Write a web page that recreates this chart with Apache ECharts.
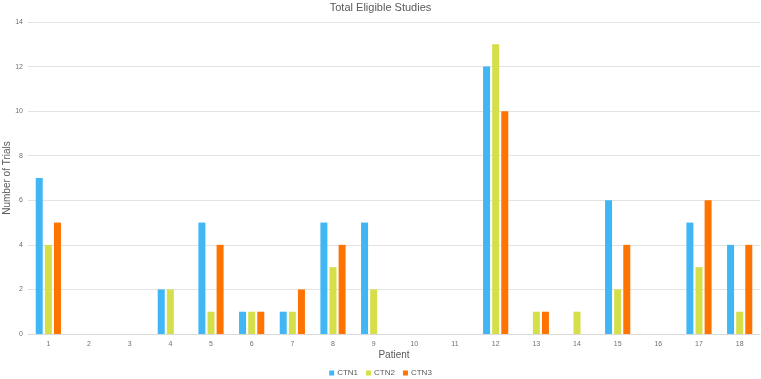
<!DOCTYPE html>
<html>
<head>
<meta charset="utf-8">
<script src="https://cdn.jsdelivr.net/npm/echarts@6/dist/echarts.min.js"></script>
<style>
  html, body { margin: 0; padding: 0; background: #fff; }
  #chart { width: 761px; height: 379px; }
</style>
</head>
<body>
<div id="chart"></div>
<script>
// patients 1..18
const patients = ['1','2','3','4','5','6','7','8','9','10','11','12','13','14','15','16','17','18'];
const ctn1 = [7, 0, 0, 2, 5, 1, 1, 5, 5, 0, 0, 12, 0, 0, 6, 0, 5, 4];
const ctn2 = [4, 0, 0, 2, 1, 1, 1, 3, 2, 0, 0, 13, 1, 1, 2, 0, 3, 1];
const ctn3 = [5, 0, 0, 0, 4, 1, 2, 4, 0, 0, 0, 10, 1, 0, 4, 0, 6, 4];

const chart = echarts.init(document.getElementById('chart'));

const bar = function (name, data, color) {
    return {
        name: name,
        type: 'bar',
        data: data,
        barGap: '30%',
        barCategoryGap: '38%',
        itemStyle: { color: color }
    };
};

chart.setOption({
    animation: false,
    textStyle: { fontFamily: 'Liberation Sans, Arial, sans-serif' },
    title: {
        text: 'Total Eligible Studies',
        left: 'center',
        top: -3,
        textStyle: { fontSize: 11, fontWeight: 'normal', color: '#595959' }
    },
    legend: {
        data: ['CTN1', 'CTN2', 'CTN3'],
        bottom: -3,
        left: 'center',
        itemWidth: 5,
        itemHeight: 5,
        itemGap: 8,
        icon: 'rect',
        textStyle: { fontSize: 8, color: '#595959', padding: [0, 0, 0, -2] }
    },
    grid: { left: 28, right: 1, top: 22, bottom: 45, outerBoundsMode: 'none', containLabel: false },
    xAxis: {
        type: 'category',
        data: patients,
        name: 'Patient',
        nameLocation: 'middle',
        nameGap: 16,
        nameMoveOverlap: false,
        nameTextStyle: { fontSize: 10, color: '#595959' },
        axisLine: { lineStyle: { color: '#d9d9d9' } },
        axisTick: { show: false },
        axisLabel: { fontSize: 7, color: '#707070', margin: 7 }
    },
    yAxis: {
        type: 'value',
        min: 0,
        max: 14,
        interval: 2,
        name: 'Number of Trials',
        nameLocation: 'middle',
        nameGap: 16,
        nameMoveOverlap: false,
        nameTextStyle: { fontSize: 10, color: '#595959' },
        axisLine: { show: false },
        axisTick: { show: false },
        axisLabel: { fontSize: 7, color: '#707070', margin: 5 },
        splitLine: { lineStyle: { color: '#e3e3e3' } }
    },
    series: [
        bar('CTN1', ctn1, '#41b6f5'),
        bar('CTN2', ctn2, '#d4df4a'),
        bar('CTN3', ctn3, '#ff7300')
    ]
});
</script>
</body>
</html>
